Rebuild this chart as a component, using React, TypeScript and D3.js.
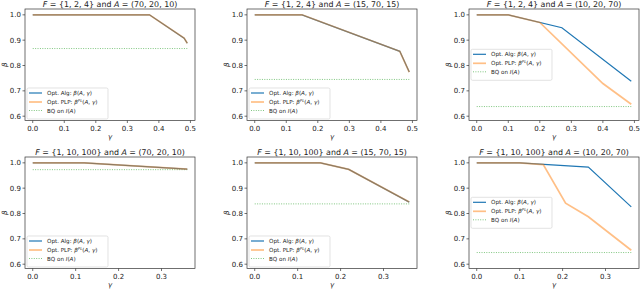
import React from "react";
import * as d3 from "d3";

// panel titles
const setF = ["{1, 2, 4}", "{1, 2, 4}", "{1, 2, 4}", "{1, 10, 100}", "{1, 10, 100}", "{1, 10, 100}"];
const setA = ["(70, 20, 10)", "(15, 70, 15)", "(10, 20, 70)", "(70, 20, 10)", "(15, 70, 15)", "(10, 20, 70)"];

// Opt. Alg curves (gamma, beta)
const algGamma1 = [0, 0.37, 0.48, 0.49];
const algBeta1 = [1.0, 1.0, 0.908, 0.888];
const algGamma2 = [0, 0.15, 0.46, 0.49];
const algBeta2 = [1.0, 1.0, 0.856, 0.774];
const algGamma3 = [0, 0.1, 0.27, 0.49];
const algBeta3 = [1.0, 1.0, 0.949, 0.738];
const algGamma4 = [0, 0.12, 0.36];
const algBeta4 = [1.0, 1.0, 0.975];
const algGamma5 = [0, 0.153, 0.219, 0.36];
const algBeta5 = [1.0, 1.0, 0.974, 0.845];
const algGamma6 = [0, 0.1, 0.26, 0.36];
const algBeta6 = [1.0, 1.0, 0.983, 0.826];

// Opt. PLP curves
const plpGamma1 = algGamma1;
const plpBeta1 = algBeta1;
const plpGamma2 = algGamma2;
const plpBeta2 = algBeta2;
const plpGamma3 = [0, 0.1, 0.2, 0.4, 0.49];
const plpBeta3 = [1.0, 1.0, 0.97, 0.729, 0.647];
const plpGamma4 = algGamma4;
const plpBeta4 = algBeta4;
const plpGamma5 = algGamma5;
const plpBeta5 = algBeta5;
const plpGamma6 = [0, 0.1, 0.155, 0.207, 0.26, 0.36];
const plpBeta6 = [1.0, 1.0, 0.993, 0.841, 0.787, 0.655];

// BQ on I(A)
const bqBeta = [0.867, 0.745, 0.638, 0.973, 0.838, 0.646];

const xTicksTop = [0, 0.1, 0.2, 0.3, 0.4, 0.5];
const xTicksBottom = [0, 0.1, 0.2, 0.3];
const yTicks = [0.6, 0.7, 0.8, 0.9, 1.0];

const algG = [algGamma1, algGamma2, algGamma3, algGamma4, algGamma5, algGamma6];
const algB = [algBeta1, algBeta2, algBeta3, algBeta4, algBeta5, algBeta6];
const plpG = [plpGamma1, plpGamma2, plpGamma3, plpGamma4, plpGamma5, plpGamma6];
const plpB = [plpBeta1, plpBeta2, plpBeta3, plpBeta4, plpBeta5, plpBeta6];

const W = 640;
const H = 289;
const colLeft = [25, 247, 469];
const rowTop = [9, 157];
const pw = 170;
const ph = 111.5;
const font = "DejaVu Sans, sans-serif";
const blue = "#1f77b4";
const orange = "#ff7f0e";
const green = "#2ca02c";

function Legend({ x, y }: { x: number; y: number }) {
  const rows = [5, 14, 22.5];
  const fs = 5.6;
  return (
    <g transform={`translate(${x},${y})`}>
      <rect x={0} y={0} width={81} height={31} rx={1.5} fill="white" fillOpacity={0.8} stroke="#d6d6d6" strokeWidth={0.7} />
      <line x1={2} x2={15} y1={rows[0]} y2={rows[0]} stroke={blue} strokeWidth={1.2} />
      <line x1={2} x2={15} y1={rows[1]} y2={rows[1]} stroke={orange} strokeOpacity={0.5} strokeWidth={1.7} />
      <line x1={2} x2={15} y1={rows[2]} y2={rows[2]} stroke={green} strokeOpacity={0.6} strokeWidth={1} strokeDasharray="1,1.4" />
      <text x={20} y={rows[0] + 2} fontSize={fs} fontFamily={font} fill="#222">
        Opt. Alg: <tspan fontStyle="italic">β</tspan>(<tspan fontStyle="italic">A</tspan>, <tspan fontStyle="italic">γ</tspan>)
      </text>
      <text x={20} y={rows[1] + 2} fontSize={fs} fontFamily={font} fill="#222">
        Opt. PLP: <tspan fontStyle="italic">β</tspan>
        <tspan fontSize={3.9} dy={-2.3} fontStyle="italic">PL</tspan>
        <tspan dy={2.3}>(</tspan><tspan fontStyle="italic">A</tspan>, <tspan fontStyle="italic">γ</tspan>)
      </text>
      <text x={20} y={rows[2] + 2} fontSize={fs} fontFamily={font} fill="#222">
        BQ on <tspan fontStyle="italic">I</tspan>(<tspan fontStyle="italic">A</tspan>)
      </text>
    </g>
  );
}

function Panel({ i }: { i: number }) {
  const col = i % 3;
  const row = Math.floor(i / 3);
  const left = colLeft[col];
  const top = rowTop[row];
  const gMax = d3.max(algG[i]) as number;
  const pad = gMax * 0.05;
  const x = d3.scaleLinear().domain([-pad, gMax + pad]).range([left, left + pw]);
  const y = d3.scaleLinear().domain([0.583, 1.023]).range([top + ph, top]);
  const line = d3
    .line<[number, number]>()
    .x((d) => x(d[0]))
    .y((d) => y(d[1]));
  const alg = algG[i].map((g, k) => [g, algB[i][k]] as [number, number]);
  const plp = plpG[i].map((g, k) => [g, plpB[i][k]] as [number, number]);
  const bq: [number, number][] = [
    [0, bqBeta[i]],
    [gMax, bqBeta[i]],
  ];
  const xTicks = row === 0 ? xTicksTop : xTicksBottom;
  const legendCenter = col === 2;
  return (
    <g>
      <path d={line(bq) || ""} fill="none" stroke={green} strokeOpacity={0.6} strokeWidth={1} strokeDasharray="1,1.4" />
      <path d={line(alg) || ""} fill="none" stroke={blue} strokeWidth={1.2} />
      <path d={line(plp) || ""} fill="none" stroke={orange} strokeOpacity={0.5} strokeWidth={1.7} />
      <rect x={left} y={top} width={pw} height={ph} fill="none" stroke="#333" strokeWidth={0.7} />
      {xTicks.map((t) => (
        <g key={t}>
          <line x1={x(t)} x2={x(t)} y1={top + ph} y2={top + ph + 2.5} stroke="#333" strokeWidth={0.7} />
          <text x={x(t)} y={top + ph + 10} fontSize={7} fontFamily={font} textAnchor="middle" fill="#222">
            {t.toFixed(1)}
          </text>
        </g>
      ))}
      {yTicks.map((t) => (
        <g key={t}>
          <line x1={left - 2.5} x2={left} y1={y(t)} y2={y(t)} stroke="#333" strokeWidth={0.7} />
          <text x={left - 4} y={y(t) + 2.5} fontSize={7} fontFamily={font} textAnchor="end" fill="#222">
            {t.toFixed(1)}
          </text>
        </g>
      ))}
      <text x={left + pw / 2} y={top + ph + 18.5} fontSize={7} fontFamily={font} fontStyle="italic" textAnchor="middle" fill="#222">
        γ
      </text>
      <text
        transform={`translate(${left - 18.5},${top + ph / 2}) rotate(-90)`}
        fontSize={7}
        fontFamily={font}
        fontStyle="italic"
        textAnchor="middle"
        fill="#222"
      >
        β
      </text>
      <text x={left + pw / 2} y={top - 2.3} fontSize={7.9} fontFamily={font} textAnchor="middle" fill="#222">
        <tspan fontStyle="italic">F</tspan> = {setF[i]} and <tspan fontStyle="italic">A</tspan> = {setA[i]}
      </text>
      <Legend x={left + 2} y={legendCenter ? top + 40.3 : top + ph - 32.5} />
    </g>
  );
}

export default function App() {
  return (
    <svg width={W} height={H} style={{ position: "absolute", left: 0, top: 0, background: "white" }}>
      {d3.range(6).map((i) => (
        <Panel key={i} i={i} />
      ))}
    </svg>
  );
}
